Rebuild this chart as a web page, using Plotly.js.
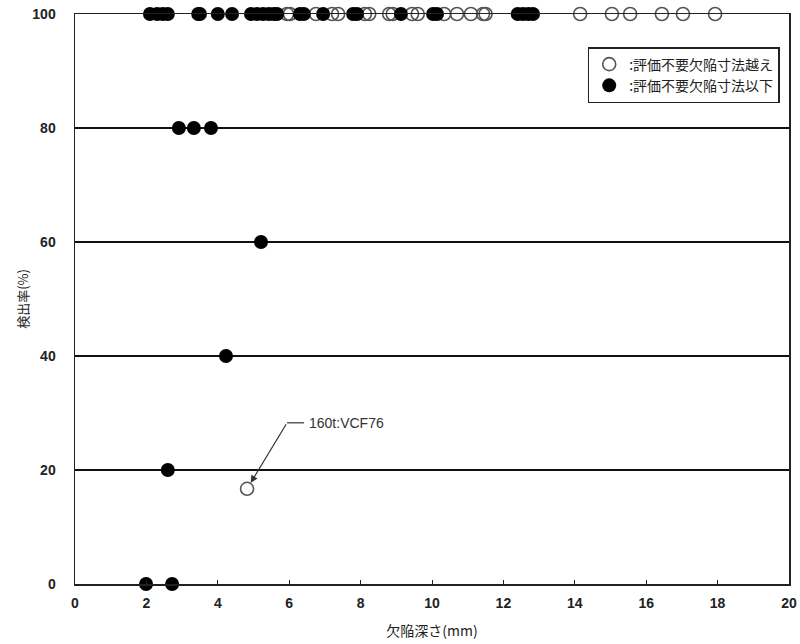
<!DOCTYPE html>
<html>
<head>
<meta charset="utf-8">
<script src="https://cdn.plot.ly/plotly-3.0.1.min.js"></script>
<style>html,body{margin:0;padding:0;background:#fff;}#chart{width:800px;height:644px;}</style>
</head>
<body>
<div id="chart"></div>
<script>
// 評価不要欠陥寸法越え (open circles)
const overX = [5.94, 6.02, 6.75, 7.2, 7.37, 8.12, 8.24, 8.8, 8.9, 9.44, 9.6, 10.34, 10.7, 11.09, 11.43, 11.5, 14.15, 15.04, 15.55, 16.44, 17.03, 17.93, 4.82];
const overY = [100, 100, 100, 100, 100, 100, 100, 100, 100, 100, 100, 100, 100, 100, 100, 100, 100, 100, 100, 100, 100, 100, 16.7];
// 評価不要欠陥寸法以下 (filled circles)
const underX = [2.1, 2.3, 2.46, 2.6, 3.45, 3.5, 4.0, 4.4, 4.93, 5.1, 5.27, 5.43, 5.57, 5.66, 6.3, 6.41, 6.95, 7.79, 7.9, 9.13, 10.03, 10.14, 12.4, 12.55, 12.7, 12.83,
                2.91, 3.33, 3.81, 5.21, 4.23, 2.6, 1.99, 2.72];
const underY = [100, 100, 100, 100, 100, 100, 100, 100, 100, 100, 100, 100, 100, 100, 100, 100, 100, 100, 100, 100, 100, 100, 100, 100, 100, 100,
                80, 80, 80, 60, 40, 20, 0, 0];
const seriesNames = [":評価不要欠陥寸法越え", ":評価不要欠陥寸法以下"];
const xTicks = [0, 2, 4, 6, 8, 10, 12, 14, 16, 18, 20];
const yTicks = [0, 20, 40, 60, 80, 100];
const noteText = "160t:VCF76";
const notePoint = {x: 4.82, y: 16.7};

const font = "'Noto Sans CJK JP', 'Liberation Sans', sans-serif";
const numFont = "'Liberation Sans', Arial, sans-serif";

const traces = [
  {x: overX, y: overY, mode: 'markers', type: 'scatter', name: seriesNames[0],
   marker: {symbol: 'circle-open', size: 13, color: '#555', line: {width: 1.6, color: '#555'}}, cliponaxis: false},
  {x: underX, y: underY, mode: 'markers', type: 'scatter', name: seriesNames[1],
   marker: {symbol: 'circle', size: 14, color: '#000'}, cliponaxis: false}
];

const layout = {
  width: 800, height: 644,
  margin: {l: 75, r: 11, t: 14, b: 60},
  paper_bgcolor: '#fff', plot_bgcolor: '#fff',
  font: {family: font, color: '#222'},
  showlegend: true,
  legend: {x: 0.987, y: 0.942, xanchor: 'right', yanchor: 'top',
           bordercolor: '#222', borderwidth: 1.5, bgcolor: '#fff',
           font: {size: 14, family: font, color: '#222'},
           itemwidth: 30, tracegroupgap: 0},
  xaxis: {range: [0, 20], tickvals: xTicks, ticktext: xTicks.map(String),
          showgrid: false, zeroline: false, showline: true, mirror: true,
          linecolor: '#222', linewidth: 1.5, ticks: 'inside', ticklen: 4, tickcolor: '#222',
          tickfont: {size: 14, family: numFont, color: '#222', weight: 'bold'},
          ticklabelstandoff: 6,
          title: {text: '欠陥深さ(mm)', font: {size: 14, family: font, color: '#222'}, standoff: 16}},
  yaxis: {range: [0, 100], tickvals: yTicks, ticktext: yTicks.map(String),
          showgrid: true, gridcolor: '#111', gridwidth: 1.2, zeroline: false,
          showline: true, mirror: true, linecolor: '#222', linewidth: 1.5,
          ticks: 'outside', ticklen: 15, tickcolor: 'rgba(0,0,0,0)',
          tickfont: {size: 14, family: numFont, color: '#222', weight: 'bold'},
          title: {text: '検出率(%)', font: {size: 13, family: font, color: '#222'}, standoff: 1}},
  annotations: [
    {x: notePoint.x, y: notePoint.y, xref: 'x', yref: 'y', text: '', showarrow: true,
     ax: 40, ay: -66, arrowhead: 2, arrowsize: 1.2, arrowwidth: 1.2, arrowcolor: '#333', standoff: 7},
    {x: notePoint.x, y: notePoint.y, xref: 'x', yref: 'y', text: noteText, showarrow: false,
     xanchor: 'left', yanchor: 'middle', xshift: 60, yshift: 66,
     font: {size: 14, family: numFont, color: '#333'}}
  ],
  shapes: [
    {type: 'line', xref: 'x', yref: 'y', xsizemode: 'pixel', ysizemode: 'pixel',
     xanchor: notePoint.x, yanchor: notePoint.y, x0: 40, x1: 57, y0: 66, y1: 66,
     line: {color: '#333', width: 1.2}}
  ]
};

Plotly.newPlot('chart', traces, layout, {displayModeBar: false, staticPlot: true});
</script>
</body>
</html>
